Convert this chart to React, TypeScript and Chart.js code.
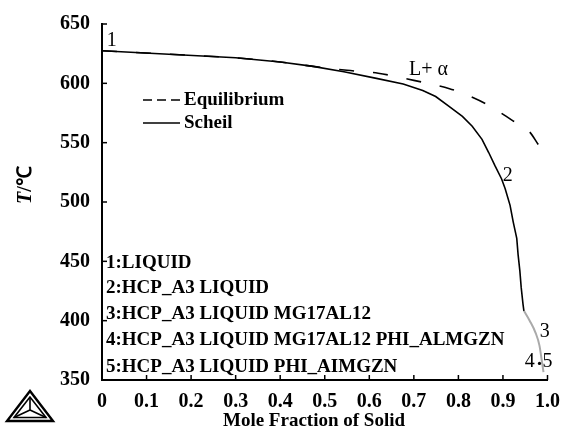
import React, { useEffect, useRef } from "react";
import { Chart, registerables } from "chart.js";

Chart.register(...registerables);

// ---------- data ----------
const xTickLabels = ["0", "0.1", "0.2", "0.3", "0.4", "0.5", "0.6", "0.7", "0.8", "0.9", "1.0"];
const yTickLabels = ["350", "400", "450", "500", "550", "600", "650"];

const equilibriumX = [0, 0.15, 0.3, 0.4, 0.47, 0.55, 0.62, 0.7, 0.78, 0.82, 0.87, 0.92, 0.96, 0.98, 1.0];
const equilibriumT = [627.5, 624.5, 621.5, 618, 614.5, 611, 608.5, 602.5, 595.5, 590, 581, 569, 559, 548, 537.5];

const scheilX = [0, 0.15, 0.3, 0.4, 0.47, 0.543, 0.616, 0.676, 0.72, 0.749, 0.779, 0.809, 0.831, 0.853, 0.868, 0.882, 0.897, 0.905, 0.916, 0.923, 0.931, 0.934, 0.938, 0.941, 0.945, 0.947];
const scheilT = [627.5, 624.5, 621.5, 618, 614.5, 609.7, 604.2, 599.4, 594, 588.9, 580.6, 572.2, 563.9, 552.8, 541.7, 530.6, 519.4, 511.1, 497.2, 483.3, 469.4, 455.6, 441.7, 427.8, 413.9, 408.3];

const scheilTailX = [0.947, 0.96, 0.973, 0.982, 0.987, 0.991];
const scheilTailT = [408.3, 400, 390, 379, 366.7, 356.7];

const seriesNames = ["Equilibrium", "Scheil"];

const phaseLegend = [
  "1:LIQUID",
  "2:HCP_A3 LIQUID",
  "3:HCP_A3 LIQUID MG17AL12",
  "4:HCP_A3 LIQUID MG17AL12 PHI_ALMGZN",
  "5:HCP_A3 LIQUID PHI_AIMGZN",
];
const phaseLegendT = [448.3, 427.5, 405.8, 383.3, 360.8];

const markerTexts = ["1", "L+ α", "2", "3", "4", "5"];
const markerX = [0.022, 0.733, 0.911, 0.994, 0.96, 1.0];
const markerT = [636, 611.5, 522.5, 390.8, 365, 365];

const xTitle = "Mole Fraction of Solid";

const SERIF = '"Liberation Serif", "Times New Roman", serif';

const toPts = (xs: number[], ys: number[]) => xs.map((x, i) => ({ x, y: ys[i] }));

const decorPlugin = {
  id: "decor",
  afterDraw(chart: any) {
    const { ctx, chartArea, scales } = chart;
    const xs = scales.x;
    const ys = scales.y;
    ctx.save();
    ctx.strokeStyle = "#000";
    ctx.fillStyle = "#000";
    ctx.lineWidth = 1.5;
    // inward ticks
    ys.ticks.forEach((t: any) => {
      const py = ys.getPixelForValue(t.value);
      ctx.beginPath();
      ctx.moveTo(chartArea.left, py);
      ctx.lineTo(chartArea.left + 5, py);
      ctx.stroke();
    });
    xs.ticks.forEach((t: any) => {
      const px = xs.getPixelForValue(t.value);
      ctx.beginPath();
      ctx.moveTo(px, chartArea.bottom);
      ctx.lineTo(px, chartArea.bottom - 5);
      ctx.stroke();
    });

    // legend inside
    const lx0 = chartArea.left + 41;
    const lx1 = chartArea.left + 78;
    const ly = [100, 123];
    ctx.lineWidth = 1.5;
    ctx.setLineDash([9, 5]);
    ctx.beginPath();
    ctx.moveTo(lx0, ly[0]);
    ctx.lineTo(lx1, ly[0]);
    ctx.stroke();
    ctx.setLineDash([]);
    ctx.beginPath();
    ctx.moveTo(lx0, ly[1]);
    ctx.lineTo(lx1, ly[1]);
    ctx.stroke();
    ctx.font = `bold 19px ${SERIF}`;
    ctx.textBaseline = "middle";
    ctx.textAlign = "left";
    ctx.fillText(seriesNames[0], lx1 + 4, ly[0]);
    ctx.fillText(seriesNames[1], lx1 + 4, ly[1]);

    // phase list
    phaseLegend.forEach((s, i) => {
      ctx.fillText(s, chartArea.left + 4, ys.getPixelForValue(phaseLegendT[i]));
    });

    // markers
    ctx.font = `20px ${SERIF}`;
    ctx.textAlign = "center";
    markerTexts.forEach((s, i) => {
      ctx.fillText(s, xs.getPixelForValue(markerX[i]), ys.getPixelForValue(markerT[i]));
    });
    ctx.beginPath();
    ctx.arc(xs.getPixelForValue(0.982), ys.getPixelForValue(364), 1.6, 0, Math.PI * 2);
    ctx.fill();

    // x title
    ctx.font = `bold 19px ${SERIF}`;
    ctx.textAlign = "center";
    ctx.fillText(xTitle, 314, 421);

    // y title
    ctx.save();
    ctx.translate(26, 185);
    ctx.rotate(-Math.PI / 2);
    ctx.font = `italic bold 20px ${SERIF}`;
    const w1 = ctx.measureText("T").width;
    ctx.font = `bold 20px ${SERIF}`;
    const w2 = ctx.measureText("/℃").width;
    const start = -(w1 + w2) / 2;
    ctx.textAlign = "left";
    ctx.font = `italic bold 20px ${SERIF}`;
    ctx.fillText("T", start, 0);
    ctx.font = `bold 20px ${SERIF}`;
    ctx.fillText("/℃", start + w1, 0);
    ctx.restore();

    // logo
    const ax = 30, ay = 391, bl = 7, br = 53, by = 421;
    ctx.lineWidth = 2.4;
    ctx.beginPath();
    ctx.moveTo(ax, ay);
    ctx.lineTo(bl, by);
    ctx.lineTo(br, by);
    ctx.closePath();
    ctx.stroke();
    ctx.lineWidth = 1.6;
    ctx.beginPath();
    ctx.moveTo(ax, ay + 6);
    ctx.lineTo(bl + 7, by - 3.5);
    ctx.lineTo(br - 7, by - 3.5);
    ctx.closePath();
    ctx.stroke();
    const cx = 30, cy = 410;
    ctx.beginPath();
    ctx.moveTo(cx, cy);
    ctx.lineTo(ax, ay + 6);
    ctx.moveTo(cx, cy);
    ctx.lineTo(bl + 7, by - 3.5);
    ctx.moveTo(cx, cy);
    ctx.lineTo(br - 7, by - 3.5);
    ctx.stroke();
    ctx.restore();
  },
};

export default function App() {
  const ref = useRef<HTMLCanvasElement | null>(null);
  useEffect(() => {
    document.body.style.margin = "0";
    const canvas = ref.current!;
    const chart = new Chart(canvas, {
      type: "scatter",
      data: {
        datasets: [
          {
            label: seriesNames[0],
            data: toPts(equilibriumX, equilibriumT),
            showLine: true,
            borderColor: "#000",
            borderWidth: 1.6,
            borderDash: [15, 19],
            pointRadius: 0,
            cubicInterpolationMode: "monotone",
          },
          {
            label: seriesNames[1],
            data: toPts(scheilX, scheilT),
            showLine: true,
            borderColor: "#000",
            borderWidth: 1.6,
            pointRadius: 0,
            tension: 0,
          },
          {
            label: seriesNames[1] + " tail",
            data: toPts(scheilTailX, scheilTailT),
            showLine: true,
            borderColor: "#aaaaaa",
            borderWidth: 2,
            pointRadius: 0,
            cubicInterpolationMode: "monotone",
          },
        ],
      },
      options: {
        responsive: false,
        animation: false,
        devicePixelRatio: 1,
        layout: { padding: { left: 0, right: 17, top: 20, bottom: 0 } },
        plugins: { legend: { display: false }, tooltip: { enabled: false } },
        scales: {
          x: {
            type: "linear",
            min: 0,
            max: 1,
            afterFit: (s: any) => {
              s.height = 53;
            },
            afterBuildTicks: (s: any) => {
              s.ticks = xTickLabels.map((l) => ({ value: parseFloat(l) }));
            },
            grid: { display: false, drawTicks: false },
            border: { display: true, color: "#000", width: 2 },
            ticks: {
              padding: 10,
              color: "#000",
              font: { family: SERIF, size: 20, weight: "bold" },
              callback: (_v: any, i: number) => xTickLabels[i],
              maxRotation: 0,
            },
          },
          y: {
            type: "linear",
            min: 350,
            max: 650,
            afterFit: (s: any) => {
              s.width = 102;
            },
            afterBuildTicks: (s: any) => {
              s.ticks = yTickLabels.map((l) => ({ value: parseFloat(l) }));
            },
            grid: { display: false, drawTicks: false },
            border: { display: true, color: "#000", width: 2 },
            ticks: {
              padding: 12,
              color: "#000",
              font: { family: SERIF, size: 20, weight: "bold" },
              callback: (_v: any, i: number) => yTickLabels[i],
            },
          },
        },
      },
      plugins: [decorPlugin],
    });
    return () => chart.destroy();
  }, []);
  return <canvas ref={ref} width={570} height={433} />;
}
